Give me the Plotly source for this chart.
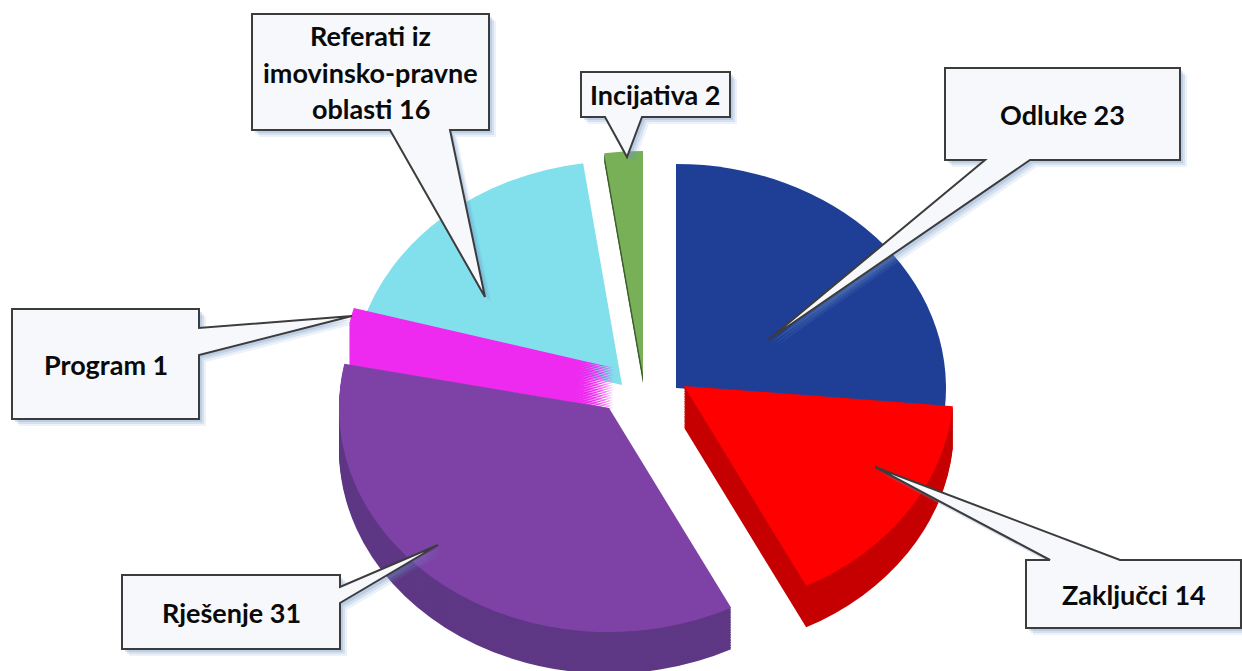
import plotly.graph_objects as go

W, H = 1242, 671

# ---- data ----
categories = ["Odluke", "Zaključci", "Rješenje", "Program", "Referati iz imovinsko-pravne oblasti", "Incijativa"]
values = [23, 14, 31, 1, 16, 2]
top_colors = ["#1F3F97", "#FF0000", "#7E42A6", "#EE2AF0", "#82E0EC", "#77B057"]
side_colors = ["#1F3F97", "#C60000", "#5E3785", "#EE2AF0", "#82E0EC", "#3F5F2C"]

label_lines = [["Odluke 23"], ["Zaključci 14"], ["Rješenje 31"], ["Program 1"],
               ["Referati iz", "imovinsko-pravne", "oblasti 16"], ["Incijativa 2"]]

# ---- styling / layout ----
# exploded position of each slice's apex on the page, and the height of its side wall (unflattened px)
apex_px = [(676, 388), (684, 386), (609, 408), (614, 368), (622, 385), (643, 375)]
wall_px = [0, 50, 50, 50, 0, 10]
draw_order = [4, 5, 0, 1, 3, 2]

# callout: box (x0,y0,x1,y1), pointer side, base a,b along side, tip (x,y), all in page pixels
callouts = [
    ((945, 68, 1180, 160), "bottom", 985, 1030, (768, 340)),
    ((1026, 560, 1241, 628), "top", 1050, 1120, (875, 467)),
    ((122, 575, 340, 649), "right", 587, 603, (438, 545)),
    ((12, 309, 199, 419), "right", 328, 355, (352, 316)),
    ((252, 14, 489, 130), "bottom", 390, 450, (485, 297)),
    ((581, 72, 730, 117), "bottom", 605, 642, (627, 157)),
]

FONT = "Lato"
FONT_SIZE = 27
LINE_STEP = 36

# the pie is laid out round, then flattened vertically to give the tilted view
SIDE = 540
TILT, SHIFT_Y = 0.83, 120
WALL_STEP = 2
CLEAR = "rgba(0,0,0,0)"


def single_slice_pie(index, color, page_apex, lift):
    cx, cy_page = page_apex
    cy = (cy_page - SHIFT_Y) / TILT + lift
    colors = [color if i == index else CLEAR for i in range(len(values))]
    return go.Pie(labels=categories, values=values, sort=False, direction="clockwise",
                  rotation=0, textinfo="none", hoverinfo="label+value", showlegend=False,
                  marker=dict(colors=colors, line=dict(width=0)),
                  domain=dict(x=[(cx - SIDE / 2) / W, (cx + SIDE / 2) / W],
                              y=[1 - (cy + SIDE / 2) / H, 1 - (cy - SIDE / 2) / H]))


fig = go.Figure()
for i in draw_order:
    for dy in range(wall_px[i], 0, -WALL_STEP):
        fig.add_trace(single_slice_pie(i, side_colors[i], apex_px[i], dy))
    fig.add_trace(single_slice_pie(i, top_colors[i], apex_px[i], 0))


def px(x):
    return x / W


def py(y):
    return 1 - y / H


def callout_points(box, side, a, b, tip):
    x0, y0, x1, y1 = box
    if side == "bottom":
        return [(x0, y0), (x1, y0), (x1, y1), (b, y1), tip, (a, y1), (x0, y1)]
    if side == "top":
        return [(x0, y0), (a, y0), tip, (b, y0), (x1, y0), (x1, y1), (x0, y1)]
    return [(x0, y0), (x1, y0), (x1, a), tip, (x1, b), (x1, y1), (x0, y1)]


def path(points, dx=0, dy=0):
    return "M " + " L ".join(f"{px(x + dx):.5f} {py(y + dy):.5f}" for x, y in points) + " Z"


shapes = []
annotations = []
for (box, side, a, b, tip), lines in zip(callouts, label_lines):
    pts = callout_points(box, side, a, b, tip)
    for off, alpha in ((7, 0.12), (5, 0.18), (3, 0.25)):
        shapes.append(dict(type="path", xref="paper", yref="paper", path=path(pts, off, off),
                           fillcolor=f"rgba(110,150,200,{alpha})", line=dict(width=0)))
    shapes.append(dict(type="path", xref="paper", yref="paper", path=path(pts),
                       fillcolor="#F6F8FB", line=dict(color="#3C3C3C", width=2)))
    mid = (box[1] + box[3]) / 2
    for i, line in enumerate(lines):
        y = mid + (i - (len(lines) - 1) / 2) * LINE_STEP
        annotations.append(dict(x=px((box[0] + box[2]) / 2), y=py(y), xref="paper", yref="paper",
                                xanchor="center", yanchor="middle", text=f"<b>{line}</b>",
                                showarrow=False, align="center",
                                font=dict(family=FONT, size=FONT_SIZE, color="#0A0A0A")))

fig.update_layout(width=W, height=H, margin=dict(l=0, r=0, t=0, b=0),
                  paper_bgcolor="white", plot_bgcolor="white",
                  shapes=shapes, annotations=annotations)

post = (
    "document.body.style.margin='0';"
    "document.querySelector('.pielayer').setAttribute('transform',"
    f"'translate(0 {SHIFT_Y}) scale(1 {TILT})');"
)
fig.write_html("out.html", post_script=post, config={"displayModeBar": False})
